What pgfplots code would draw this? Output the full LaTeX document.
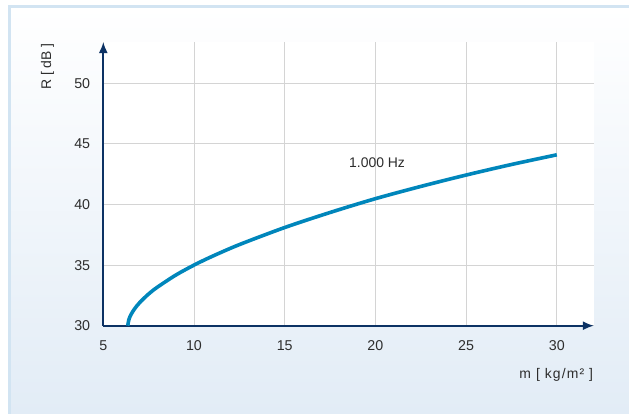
\documentclass[border=0pt]{standalone}
\usepackage{fontspec}
\setmainfont{Liberation Sans}
\usepackage{pgfplots}
\pgfplotsset{compat=1.18}
\usetikzlibrary{arrows.meta}

\definecolor{navy}{RGB}{12,50,100}
\definecolor{curveblue}{RGB}{0,134,187}
\definecolor{gridgray}{RGB}{212,212,212}
\definecolor{txt}{RGB}{45,45,45}
\definecolor{frameblue}{RGB}{210,228,242}
\definecolor{bgblue}{RGB}{226,236,246}

\begin{document}
\begin{tikzpicture}[font=\fontsize{14}{16}\selectfont]
  \useasboundingbox (-103.3bp,-88.3bp) rectangle (525.7bp,325.7bp);
  % background panel
  \shade[top color=white, bottom color=bgblue] (-93.5bp,-88.3bp) rectangle (525.7bp,318.7bp);
  \draw[frameblue, line width=3bp] (-93.5bp,-88.3bp) -- (-93.5bp,318.7bp) -- (525.7bp,318.7bp);

  \begin{axis}[
      x=18.14bp, y=12.12bp,
      xmin=5, xmax=32.04, ymin=30, ymax=53.4,
      axis lines=left,
      axis line style={draw=navy, line width=1.6bp, -{Latex[length=11bp,width=9bp]}},
      axis background/.style={fill=white},
      xtick={5,10,...,30},
      ytick={30,35,...,50},
      major tick length=0pt,
      grid=major,
      major grid style={gridgray, line width=1bp},
      tick label style={text=txt, font=\fontsize{14.3}{16}\selectfont},
      /pgf/number format/assume math mode=true,
      xticklabel style={anchor=north, inner sep=0pt, yshift=-15bp},
      yticklabel style={anchor=east, inner sep=0pt, xshift=-13bp},
      clip=false,
    ]
    \addplot[curveblue, line width=3.6bp, smooth, tension=0.5] coordinates {
      (6.35,30.00) (6.40,30.45) (6.50,30.84) (6.70,31.34) (7.00,31.90)
      (7.50,32.62) (8.00,33.20) (9.00,34.18) (10.00,35.00) (11.00,35.72)
      (12.50,36.69) (15.00,38.10) (17.50,39.34) (20.00,40.48) (22.50,41.49)
      (25.00,42.43) (27.50,43.30) (30.00,44.10)
    };
    \node[text=txt] at (axis cs:20.09,43.47) {1.000 Hz};
  \end{axis}

  \node[text=txt, anchor=east, inner sep=0pt] at (490bp,-48.8bp)
    {\addfontfeature{LetterSpace=8}m [ kg/m² ]};
  \node[text=txt, rotate=90, anchor=east, inner sep=0pt] at (-55.8bp,282.7bp) {R [ dB ]};
\end{tikzpicture}
\end{document}
